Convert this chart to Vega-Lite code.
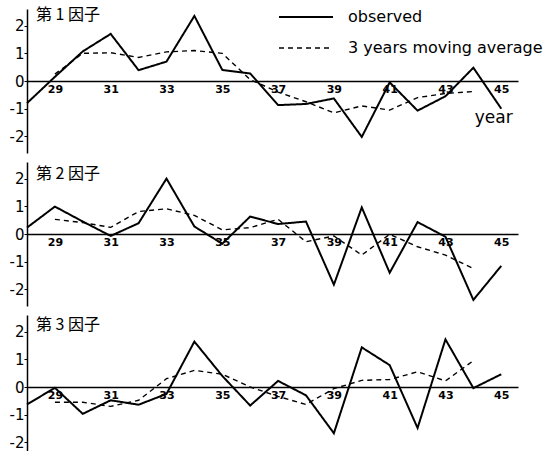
{
  "$schema": "https://vega.github.io/schema/vega-lite/v6.json",
  "autosize": {"type": "pad"},
  "padding": {"left": 9, "top": 6, "right": 0, "bottom": 0},
  "background": "white",
  "bounds": "flush",
  "spacing": 9,
  "config": {
    "view": {"stroke": null},
    "font": "DejaVu Sans",
    "axis": {"grid": false, "domainColor": "black", "domainWidth": 1.5, "tickColor": "black", "labelColor": "black", "labelFont": "DejaVu Sans", "labelOverlap": false},
    "axisY": {"tickCount": 5, "values": [-2, -1, 0, 1, 2], "tickSize": 3, "labelPadding": 0, "labelFontSize": 15, "labelExpr": "datum.value < 0 ? '-' + abs(datum.value) : '' + datum.value", "title": null},
    "axisX": {"offset": -72, "ticks": false, "labelPadding": 2, "labelFontSize": 11, "labelFontWeight": "bold", "title": null}
  },
  "datasets": {
    "d": [
      {"f": 1, "year": 28, "s": "observed", "v": -0.8},
      {"f": 1, "year": 29, "s": "observed", "v": 0.15},
      {"f": 1, "year": 30, "s": "observed", "v": 1.07},
      {"f": 1, "year": 31, "s": "observed", "v": 1.7},
      {"f": 1, "year": 32, "s": "observed", "v": 0.39},
      {"f": 1, "year": 33, "s": "observed", "v": 0.7},
      {"f": 1, "year": 34, "s": "observed", "v": 2.35},
      {"f": 1, "year": 35, "s": "observed", "v": 0.4},
      {"f": 1, "year": 36, "s": "observed", "v": 0.27},
      {"f": 1, "year": 37, "s": "observed", "v": -0.87},
      {"f": 1, "year": 38, "s": "observed", "v": -0.83},
      {"f": 1, "year": 39, "s": "observed", "v": -0.63},
      {"f": 1, "year": 40, "s": "observed", "v": -2.02},
      {"f": 1, "year": 41, "s": "observed", "v": -0.05},
      {"f": 1, "year": 42, "s": "observed", "v": -1.07},
      {"f": 1, "year": 43, "s": "observed", "v": -0.55},
      {"f": 1, "year": 44, "s": "observed", "v": 0.48},
      {"f": 1, "year": 45, "s": "observed", "v": -1.0},
      {"f": 1, "year": 29, "s": "3 years moving average", "v": 0.25},
      {"f": 1, "year": 30, "s": "3 years moving average", "v": 1.0},
      {"f": 1, "year": 31, "s": "3 years moving average", "v": 1.02},
      {"f": 1, "year": 32, "s": "3 years moving average", "v": 0.85},
      {"f": 1, "year": 33, "s": "3 years moving average", "v": 1.05},
      {"f": 1, "year": 34, "s": "3 years moving average", "v": 1.1},
      {"f": 1, "year": 35, "s": "3 years moving average", "v": 1.0},
      {"f": 1, "year": 36, "s": "3 years moving average", "v": 0.05},
      {"f": 1, "year": 37, "s": "3 years moving average", "v": -0.4},
      {"f": 1, "year": 38, "s": "3 years moving average", "v": -0.75},
      {"f": 1, "year": 39, "s": "3 years moving average", "v": -1.15},
      {"f": 1, "year": 40, "s": "3 years moving average", "v": -0.9},
      {"f": 1, "year": 41, "s": "3 years moving average", "v": -1.05},
      {"f": 1, "year": 42, "s": "3 years moving average", "v": -0.6},
      {"f": 1, "year": 43, "s": "3 years moving average", "v": -0.45},
      {"f": 1, "year": 44, "s": "3 years moving average", "v": -0.38},
      {"f": 2, "year": 28, "s": "observed", "v": 0.23},
      {"f": 2, "year": 29, "s": "observed", "v": 0.99},
      {"f": 2, "year": 30, "s": "observed", "v": 0.45},
      {"f": 2, "year": 31, "s": "observed", "v": -0.07},
      {"f": 2, "year": 32, "s": "observed", "v": 0.39},
      {"f": 2, "year": 33, "s": "observed", "v": 2.0},
      {"f": 2, "year": 34, "s": "observed", "v": 0.27},
      {"f": 2, "year": 35, "s": "observed", "v": -0.35},
      {"f": 2, "year": 36, "s": "observed", "v": 0.63},
      {"f": 2, "year": 37, "s": "observed", "v": 0.36},
      {"f": 2, "year": 38, "s": "observed", "v": 0.45},
      {"f": 2, "year": 39, "s": "observed", "v": -1.83},
      {"f": 2, "year": 40, "s": "observed", "v": 0.96},
      {"f": 2, "year": 41, "s": "observed", "v": -1.4},
      {"f": 2, "year": 42, "s": "observed", "v": 0.43},
      {"f": 2, "year": 43, "s": "observed", "v": -0.1},
      {"f": 2, "year": 44, "s": "observed", "v": -2.38},
      {"f": 2, "year": 45, "s": "observed", "v": -1.15},
      {"f": 2, "year": 29, "s": "3 years moving average", "v": 0.53},
      {"f": 2, "year": 30, "s": "3 years moving average", "v": 0.41},
      {"f": 2, "year": 31, "s": "3 years moving average", "v": 0.24},
      {"f": 2, "year": 32, "s": "3 years moving average", "v": 0.81},
      {"f": 2, "year": 33, "s": "3 years moving average", "v": 0.91},
      {"f": 2, "year": 34, "s": "3 years moving average", "v": 0.67},
      {"f": 2, "year": 35, "s": "3 years moving average", "v": 0.15},
      {"f": 2, "year": 36, "s": "3 years moving average", "v": 0.23},
      {"f": 2, "year": 37, "s": "3 years moving average", "v": 0.53},
      {"f": 2, "year": 38, "s": "3 years moving average", "v": -0.28},
      {"f": 2, "year": 39, "s": "3 years moving average", "v": -0.07},
      {"f": 2, "year": 40, "s": "3 years moving average", "v": -0.76},
      {"f": 2, "year": 41, "s": "3 years moving average", "v": -0.01},
      {"f": 2, "year": 42, "s": "3 years moving average", "v": -0.46},
      {"f": 2, "year": 43, "s": "3 years moving average", "v": -0.76},
      {"f": 2, "year": 44, "s": "3 years moving average", "v": -1.25},
      {"f": 3, "year": 28, "s": "observed", "v": -0.63},
      {"f": 3, "year": 29, "s": "observed", "v": -0.03},
      {"f": 3, "year": 30, "s": "observed", "v": -0.97},
      {"f": 3, "year": 31, "s": "observed", "v": -0.48},
      {"f": 3, "year": 32, "s": "observed", "v": -0.64},
      {"f": 3, "year": 33, "s": "observed", "v": -0.25},
      {"f": 3, "year": 34, "s": "observed", "v": 1.64},
      {"f": 3, "year": 35, "s": "observed", "v": 0.4},
      {"f": 3, "year": 36, "s": "observed", "v": -0.67},
      {"f": 3, "year": 37, "s": "observed", "v": 0.22},
      {"f": 3, "year": 38, "s": "observed", "v": -0.3},
      {"f": 3, "year": 39, "s": "observed", "v": -1.67},
      {"f": 3, "year": 40, "s": "observed", "v": 1.43},
      {"f": 3, "year": 41, "s": "observed", "v": 0.79},
      {"f": 3, "year": 42, "s": "observed", "v": -1.48},
      {"f": 3, "year": 43, "s": "observed", "v": 1.72},
      {"f": 3, "year": 44, "s": "observed", "v": -0.04},
      {"f": 3, "year": 45, "s": "observed", "v": 0.46},
      {"f": 3, "year": 29, "s": "3 years moving average", "v": -0.55},
      {"f": 3, "year": 30, "s": "3 years moving average", "v": -0.55},
      {"f": 3, "year": 31, "s": "3 years moving average", "v": -0.7},
      {"f": 3, "year": 32, "s": "3 years moving average", "v": -0.48},
      {"f": 3, "year": 33, "s": "3 years moving average", "v": 0.3},
      {"f": 3, "year": 34, "s": "3 years moving average", "v": 0.6},
      {"f": 3, "year": 35, "s": "3 years moving average", "v": 0.46},
      {"f": 3, "year": 36, "s": "3 years moving average", "v": 0.0},
      {"f": 3, "year": 37, "s": "3 years moving average", "v": -0.34},
      {"f": 3, "year": 38, "s": "3 years moving average", "v": -0.63},
      {"f": 3, "year": 39, "s": "3 years moving average", "v": -0.06},
      {"f": 3, "year": 40, "s": "3 years moving average", "v": 0.24},
      {"f": 3, "year": 41, "s": "3 years moving average", "v": 0.27},
      {"f": 3, "year": 42, "s": "3 years moving average", "v": 0.55},
      {"f": 3, "year": 43, "s": "3 years moving average", "v": 0.22},
      {"f": 3, "year": 44, "s": "3 years moving average", "v": 0.95}
    ],
    "titles": [
      {"f": 1, "year": 28.32, "v": 2.39, "t": "第 1 因子"},
      {"f": 2, "year": 28.32, "v": 2.17, "t": "第 2 因子"},
      {"f": 3, "year": 28.32, "v": 2.25, "t": "第 3 因子"}
    ],
    "xlab": [
      {"f": 1, "year": 44.73, "v": -1.34, "t": "year"}
    ]
  },
  "resolve": {"legend": {"strokeDash": "independent", "strokeWidth": "independent"}},
  "vconcat": [
    {
      "width": 491, "height": 144,
      "layer": [
        {
          "data": {"name": "d"},
          "transform": [{"filter": "datum.f == 1"}],
          "mark": {"type": "line", "color": "black"},
          "encoding": {
            "x": {"field": "year", "type": "quantitative", "scale": {"domain": [28, 45.6], "nice": false, "zero": false}, "axis": {"values": [29, 31, 33, 35, 37, 39, 41, 43, 45]}},
            "y": {"field": "v", "type": "quantitative", "scale": {"domain": [-2.6, 2.6], "nice": false}},
            "detail": {"field": "s"},
            "strokeDash": {"field": "s", "type": "nominal", "scale": {"domain": ["observed", "3 years moving average"], "range": [[1, 0], [5, 4]]},
                           "legend": {"title": null, "orient": "none", "legendX": 271, "legendY": 0, "symbolType": "M-4,0H4", "symbolSize": 182, "symbolStrokeColor": "black", "symbolStrokeWidth": 1.6, "labelFontSize": 16, "labelFont": "DejaVu Sans", "labelColor": "black", "labelOffset": 34, "labelLimit": 400, "rowPadding": 15, "padding": 0}},
            "strokeWidth": {"field": "s", "type": "nominal", "scale": {"domain": ["observed", "3 years moving average"], "range": [2, 1.4]}, "legend": null}
          }
        },
        {
          "data": {"name": "titles"},
          "transform": [{"filter": "datum.f == 1"}],
          "mark": {"type": "text", "align": "left", "baseline": "middle", "font": "Noto Sans CJK JP", "fontSize": 16, "color": "black"},
          "encoding": {"x": {"field": "year", "type": "quantitative", "axis": {"values": [29, 31, 33, 35, 37, 39, 41, 43, 45]}}, "y": {"field": "v", "type": "quantitative"}, "text": {"field": "t"}}
        },
        {
          "data": {"name": "xlab"},
          "mark": {"type": "text", "align": "center", "baseline": "middle", "fontSize": 17, "color": "black"},
          "encoding": {"x": {"field": "year", "type": "quantitative", "axis": {"values": [29, 31, 33, 35, 37, 39, 41, 43, 45]}}, "y": {"field": "v", "type": "quantitative"}, "text": {"field": "t"}}
        }
      ]
    },
    {
      "width": 491, "height": 144,
      "layer": [
        {
          "data": {"name": "d"},
          "transform": [{"filter": "datum.f == 2"}],
          "mark": {"type": "line", "color": "black"},
          "encoding": {
            "x": {"field": "year", "type": "quantitative", "scale": {"domain": [28, 45.6], "nice": false, "zero": false}, "axis": {"values": [29, 31, 33, 35, 37, 39, 41, 43, 45]}},
            "y": {"field": "v", "type": "quantitative", "scale": {"domain": [-2.6, 2.6], "nice": false}},
            "detail": {"field": "s"},
            "strokeDash": {"field": "s", "type": "nominal", "scale": {"domain": ["observed", "3 years moving average"], "range": [[1, 0], [5, 4]]}, "legend": null},
            "strokeWidth": {"field": "s", "type": "nominal", "scale": {"domain": ["observed", "3 years moving average"], "range": [2, 1.4]}, "legend": null}
          }
        },
        {
          "data": {"name": "titles"},
          "transform": [{"filter": "datum.f == 2"}],
          "mark": {"type": "text", "align": "left", "baseline": "middle", "font": "Noto Sans CJK JP", "fontSize": 16, "color": "black"},
          "encoding": {"x": {"field": "year", "type": "quantitative", "axis": {"values": [29, 31, 33, 35, 37, 39, 41, 43, 45]}}, "y": {"field": "v", "type": "quantitative"}, "text": {"field": "t"}}
        }
      ]
    },
    {
      "width": 491, "height": 144,
      "layer": [
        {
          "data": {"name": "d"},
          "transform": [{"filter": "datum.f == 3"}],
          "mark": {"type": "line", "color": "black"},
          "encoding": {
            "x": {"field": "year", "type": "quantitative", "scale": {"domain": [28, 45.6], "nice": false, "zero": false}, "axis": {"values": [29, 31, 33, 35, 37, 39, 41, 43, 45]}},
            "y": {"field": "v", "type": "quantitative", "scale": {"domain": [-2.6, 2.6], "nice": false}},
            "detail": {"field": "s"},
            "strokeDash": {"field": "s", "type": "nominal", "scale": {"domain": ["observed", "3 years moving average"], "range": [[1, 0], [5, 4]]}, "legend": null},
            "strokeWidth": {"field": "s", "type": "nominal", "scale": {"domain": ["observed", "3 years moving average"], "range": [2, 1.4]}, "legend": null}
          }
        },
        {
          "data": {"name": "titles"},
          "transform": [{"filter": "datum.f == 3"}],
          "mark": {"type": "text", "align": "left", "baseline": "middle", "font": "Noto Sans CJK JP", "fontSize": 16, "color": "black"},
          "encoding": {"x": {"field": "year", "type": "quantitative", "axis": {"values": [29, 31, 33, 35, 37, 39, 41, 43, 45]}}, "y": {"field": "v", "type": "quantitative"}, "text": {"field": "t"}}
        }
      ]
    }
  ]
}
